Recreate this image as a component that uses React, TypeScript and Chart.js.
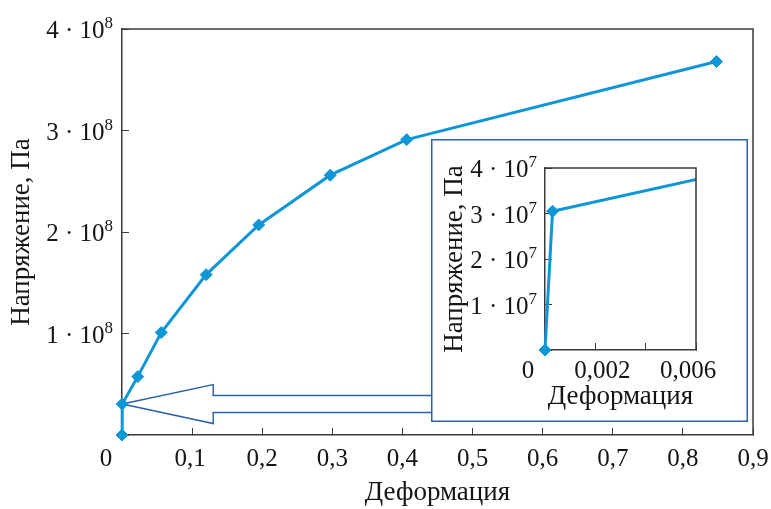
import React, { useEffect, useRef } from 'react';
import { Chart, registerables } from 'chart.js';

Chart.register(...registerables);

// ---- data ----
const strain = [0, 0.0003, 0.0224, 0.056, 0.12, 0.195, 0.297, 0.406, 0.848];
const stress = [0, 3.05e7, 5.75e7, 1.01e8, 1.58e8, 2.07e8, 2.56e8, 2.91e8, 3.68e8];

const mainXTickValues = [0.1, 0.2, 0.3, 0.4, 0.5, 0.6, 0.7, 0.8, 0.9];
const mainXTickLabels = ['0,1', '0,2', '0,3', '0,4', '0,5', '0,6', '0,7', '0,8', '0,9'];
const mainYTickValues = [1e8, 2e8, 3e8, 4e8];
const mainYTickMantissas = ['1', '2', '3', '4'];
const mainYExponent = '8';

const insetXTickValues = [0.002, 0.006];
const insetXTickLabels = ['0,002', '0,006'];
const insetYTickValues = [1e7, 2e7, 3e7, 4e7];
const insetYTickMantissas = ['1', '2', '3', '4'];
const insetYExponent = '7';

const originLabel = '0';
const xTitle = 'Деформация';
const yTitle = 'Напряжение, Па';

// ---- styles ----
const FONT = '"Liberation Serif", "Times New Roman", serif';
const TEXT = '#151515';
const AXIS = '#3a3a3a';
const LINE = '#0f96d6';
const FRAME_BLUE = '#2c5fab';
const TICK_SIZE = 25;
const SUP_SIZE = 17;
const TITLE_SIZE = 27;

type LabelCfg = {
  xVals: number[];
  xLabels: string[];
  xShift: number[];
  xBaseDy: number;
  yVals: number[];
  yMant: string[];
  yExp: string;
  yDx: number;
  originDx: number;
};

function makeLabelPlugin(id: string, cfg: LabelCfg) {
  return {
    id,
    afterDraw(chart: any) {
      const { ctx, chartArea, scales } = chart;
      const xs = scales.x;
      const ys = scales.y;
      ctx.save();
      // frame top & right
      ctx.strokeStyle = AXIS;
      ctx.lineWidth = 1.5;
      ctx.beginPath();
      ctx.moveTo(chartArea.left, chartArea.top);
      ctx.lineTo(chartArea.right, chartArea.top);
      ctx.lineTo(chartArea.right, chartArea.bottom);
      ctx.stroke();

      ctx.fillStyle = TEXT;
      ctx.textBaseline = 'alphabetic';
      // x labels
      ctx.font = `${TICK_SIZE}px ${FONT}`;
      ctx.textAlign = 'center';
      const by = chartArea.bottom + cfg.xBaseDy;
      cfg.xVals.forEach((v, i) => {
        ctx.fillText(cfg.xLabels[i], xs.getPixelForValue(v) + (cfg.xShift[i] || 0), by);
      });
      ctx.fillText(originLabel, xs.getPixelForValue(0) + cfg.originDx, by);
      // y labels with superscript
      const rx = chartArea.left + cfg.yDx;
      cfg.yVals.forEach((v, i) => {
        const py = ys.getPixelForValue(v);
        ctx.textAlign = 'right';
        ctx.font = `${SUP_SIZE}px ${FONT}`;
        const sw = ctx.measureText(cfg.yExp).width;
        ctx.fillText(cfg.yExp, rx, py - 1);
        ctx.font = `${TICK_SIZE}px ${FONT}`;
        ctx.fillText(cfg.yMant[i] + ' \u00b7 10', rx - sw, py + 9);
      });
      ctx.restore();
    },
  };
}

function axisOpts(min: number, max: number, step: number, title: string, titlePad: any, fit: (s: any) => void) {
  return {
    type: 'linear' as const,
    min,
    max,
    ticks: { stepSize: step, callback: () => '', font: { family: FONT, size: TICK_SIZE } },
    grid: { drawOnChartArea: false, drawTicks: true, tickLength: -7, color: AXIS, lineWidth: 1 },
    border: { color: AXIS, width: 1.5 },
    title: { display: true, text: title, color: TEXT, font: { family: FONT, size: TITLE_SIZE }, padding: titlePad },
    afterFit: fit,
  };
}

export default function App() {
  const mainRef = useRef<HTMLCanvasElement>(null);
  const insetRef = useRef<HTMLCanvasElement>(null);

  useEffect(() => {
    const pts = strain.map((x, i) => ({ x, y: stress[i] }));

    const arrowPlugin = {
      id: 'arrow',
      beforeDatasetsDraw(chart: any) {
        const { ctx, scales } = chart;
        const tx = scales.x.getPixelForValue(strain[1]);
        const ty = scales.y.getPixelForValue(stress[1]);
        const headLen = 91;
        const headHalf = 19.5;
        const shaftHalf = 8.5;
        const endX = 433; // inset box left edge
        ctx.save();
        ctx.strokeStyle = FRAME_BLUE;
        ctx.lineWidth = 1.4;
        ctx.beginPath();
        ctx.moveTo(tx, ty);
        ctx.lineTo(tx + headLen, ty - headHalf);
        ctx.lineTo(tx + headLen, ty - shaftHalf);
        ctx.lineTo(endX, ty - shaftHalf);
        ctx.moveTo(endX, ty + shaftHalf);
        ctx.lineTo(tx + headLen, ty + shaftHalf);
        ctx.lineTo(tx + headLen, ty + headHalf);
        ctx.lineTo(tx, ty);
        ctx.stroke();
        ctx.restore();
      },
    };

    const dataset = (clip: any) => ({
      data: pts,
      borderColor: LINE,
      backgroundColor: LINE,
      borderWidth: 3,
      pointStyle: 'rectRot',
      pointRadius: 6,
      pointBorderWidth: 1,
      tension: 0,
      clip,
    });

    const main = new Chart(mainRef.current!, {
      type: 'line',
      data: { datasets: [dataset(false) as any] },
      options: {
        animation: false,
        responsive: false,
        devicePixelRatio: 1,
        layout: { padding: { left: 0, top: 29, right: 18, bottom: 0 } },
        plugins: { legend: { display: false }, tooltip: { enabled: false } },
        scales: {
          x: axisOpts(0, 0.9, 0.1, xTitle, { top: 0, bottom: 0 }, (s: any) => { s.height = 74; }),
          y: axisOpts(0, 4e8, 1e8, yTitle, { top: 6, bottom: 0 }, (s: any) => { s.width = 122; }),
        } as any,
      },
      plugins: [
        arrowPlugin,
        makeLabelPlugin('mainLabels', {
          xVals: mainXTickValues,
          xLabels: mainXTickLabels,
          xShift: [-2, 0, 0, 0, 0, 0, 0, 0, 0],
          xBaseDy: 31,
          yVals: mainYTickValues,
          yMant: mainYTickMantissas,
          yExp: mainYExponent,
          yDx: -9,
          originDx: -16,
        }),
      ],
    });

    const insetFramePlugin = {
      id: 'insetFrame',
      beforeDraw(chart: any) {
        const { ctx, width, height } = chart;
        ctx.save();
        ctx.fillStyle = '#ffffff';
        ctx.fillRect(0, 0, width, height);
        ctx.restore();
      },
      afterDraw(chart: any) {
        const { ctx, width, height } = chart;
        ctx.save();
        ctx.strokeStyle = FRAME_BLUE;
        ctx.lineWidth = 1.5;
        ctx.strokeRect(0.75, 0.75, width - 1.5, height - 1.5);
        ctx.restore();
      },
    };

    const inset = new Chart(insetRef.current!, {
      type: 'line',
      data: { datasets: [dataset({ left: 8, bottom: 8, top: 0, right: 0 }) as any] },
      options: {
        animation: false,
        responsive: false,
        devicePixelRatio: 1,
        layout: { padding: { left: 0, top: 29, right: 52, bottom: 0 } },
        plugins: { legend: { display: false }, tooltip: { enabled: false } },
        scales: {
          x: axisOpts(0, 0.006, 0.002, xTitle, { top: 0, bottom: 9 }, (s: any) => { s.height = 72; }),
          y: axisOpts(0, 4e7, 1e7, yTitle, { top: 8, bottom: 0 }, (s: any) => { s.width = 114; }),
        } as any,
      },
      plugins: [
        insetFramePlugin,
        makeLabelPlugin('insetLabels', {
          xVals: insetXTickValues,
          xLabels: insetXTickLabels,
          xShift: [7, -8],
          xBaseDy: 28,
          yVals: insetYTickValues,
          yMant: insetYTickMantissas,
          yExp: insetYExponent,
          yDx: -8,
          originDx: -17,
        }),
      ],
    });

    return () => {
      main.destroy();
      inset.destroy();
    };
  }, []);

  return (
    <div style={{ position: 'fixed', left: 0, top: 0, width: 771, height: 509, background: '#fff' }}>
      <canvas ref={mainRef} width={771} height={509} style={{ position: 'absolute', left: 0, top: 0 }} />
      <canvas ref={insetRef} width={317} height={283} style={{ position: 'absolute', left: 431, top: 139 }} />
    </div>
  );
}
